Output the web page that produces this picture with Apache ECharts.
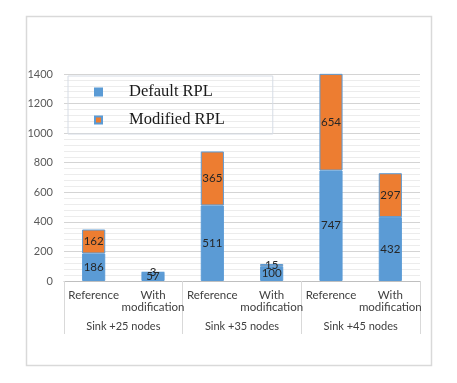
<!DOCTYPE html>
<html><head><meta charset="utf-8">
<script src="https://cdn.jsdelivr.net/npm/echarts@6/dist/echarts.min.js"></script>
<style>html,body{margin:0;padding:0;background:#fff}#c{width:457px;height:383px}</style>
</head><body><div id="c"></div>
<script>
var categories = ['Reference', 'With\nmodification', 'Reference', 'With\nmodification', 'Reference', 'With\nmodification'];
var groups = ['Sink +25 nodes', 'Sink +35 nodes', 'Sink +45 nodes'];
var defaultRPL = [186, 57, 511, 100, 747, 432];
var modifiedRPL = [162, 3, 365, 15, 654, 297];
var seriesNames = ['Default RPL', 'Modified RPL'];

var chart = echarts.init(document.getElementById('c'), null, {renderer: 'canvas'});
var font = 'Lato, "Liberation Sans", sans-serif';
chart.setOption({
  animation: false,
  backgroundColor: '#fff',
  grid: {left: 64, right: 37, top: 74, bottom: 102},
  graphic: [{
    type: 'rect', left: 24, top: 14, z: -1,
    shape: {width: 405, height: 349},
    style: {fill: 'none', stroke: '#d9d9d9', lineWidth: 1.5}
  }],
  legend: {
    orient: 'vertical', left: 68, top: 76,
    data: seriesNames,
    icon: 'rect', itemWidth: 7, itemHeight: 7, itemGap: 6,
    padding: [5, 48, 3, 26],
    borderColor: '#d6dce5', borderWidth: 1,
    textStyle: {fontFamily: '"Liberation Serif", "Times New Roman", serif', fontSize: 16.5, color: '#1a1a1a', lineHeight: 20, padding: [2, 0, 0, 22]}
  },
  xAxis: [{
    type: 'category', data: categories, z: 1,
    axisLine: {show: true, lineStyle: {color: '#bfbfbf'}},
    axisTick: {show: false},
    axisLabel: {interval: 0, margin: 8, fontFamily: font, fontSize: 11.5, color: '#404040', lineHeight: 12.5}
  }, {
    type: 'category', data: groups, position: 'bottom', z: 1,
    axisLine: {show: false},
    axisTick: {show: true, interval: 0, length: 53, lineStyle: {color: '#d9d9d9'}},
    axisLabel: {interval: 0, margin: 40, fontFamily: font, fontSize: 11, color: '#404040'}
  }],
  yAxis: [{
    type: 'value', min: 0, max: 1400, interval: 200, z: 1,
    axisLine: {show: false}, axisTick: {show: false},
    axisLabel: {margin: 11, fontFamily: font, fontSize: 11, color: '#595959', formatter: function (v) { return String(v); }},
    splitLine: {lineStyle: {color: '#d4d4d4'}}
  }, {
    type: 'value', min: 0, max: 1400, interval: 40, position: 'left', z: 0,
    axisLine: {show: false}, axisTick: {show: false}, axisLabel: {show: false},
    splitLine: {lineStyle: {color: '#ececec'}}
  }],
  series: [{
    name: seriesNames[0], type: 'bar', stack: 's', xAxisIndex: 0, yAxisIndex: 0, z: 5,
    data: defaultRPL, barWidth: '39%',
    itemStyle: {color: '#5b9bd5', borderColor: '#5b9bd5', borderWidth: 1},
    label: {show: true, position: 'inside', fontFamily: font, fontSize: 11.5, color: '#262626'}
  }, {
    name: seriesNames[1], type: 'bar', stack: 's', xAxisIndex: 0, yAxisIndex: 0, z: 5,
    data: modifiedRPL, barWidth: '39%',
    itemStyle: {color: '#ed7d31', borderColor: '#5b9bd5', borderWidth: 1},
    label: {show: true, position: 'inside', fontFamily: font, fontSize: 11.5, color: '#262626'}
  }]
});
</script></body></html>
